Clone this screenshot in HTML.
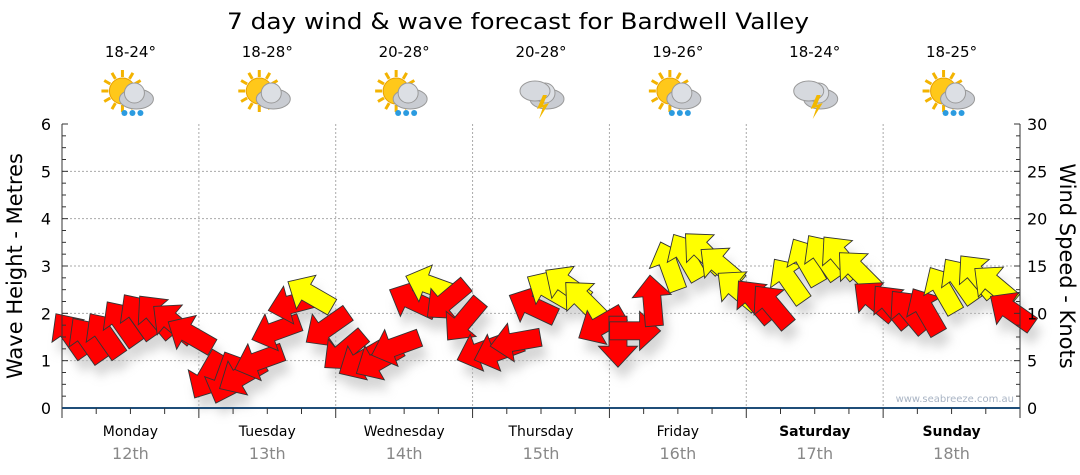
<!DOCTYPE html>
<html><head><meta charset="utf-8"><style>
body{margin:0;background:#fff;font-family:"DejaVu Sans","Liberation Sans",sans-serif}
svg{display:block;font-family:"DejaVu Sans","Liberation Sans",sans-serif}
</style></head><body>
<svg id="c" width="1080" height="475" viewBox="0 0 1080 475">
<defs><filter id="sh" x="-50%" y="-50%" width="200%" height="200%"><feGaussianBlur stdDeviation="5"/></filter></defs>
<text x="518" y="29" font-size="22" text-anchor="middle" fill="#000" textLength="582" lengthAdjust="spacingAndGlyphs">7 day wind &amp; wave forecast for Bardwell Valley</text>
<g id="grid"></g>
<g id="icons"></g>
<g id="shadows" filter="url(#sh)" opacity="0.6"></g>
<g id="arrows"></g>
<g id="axes"></g>
<text x="1014" y="402" font-size="10" text-anchor="end" fill="#a9b4c4">www.seabreeze.com.au</text>
<text transform="translate(22,266) rotate(-90)" font-size="21" text-anchor="middle">Wave Height - Metres</text>
<text transform="translate(1060,266) rotate(90)" font-size="21" text-anchor="middle">Wind Speed - Knots</text>
</svg>
<script>
const days=["Monday","Tuesday","Wednesday","Thursday","Friday","Saturday","Sunday"];
const dates=["12th","13th","14th","15th","16th","17th","18th"];
const temps=["18-24°","18-28°","20-28°","20-28°","19-26°","18-24°","18-25°"];
const iconTypes=["rain","cloud","rain","storm","rain","storm","rain"];
const waveTicks=[0,1,2,3,4,5,6];
const windTicks=[0,5,10,15,20,25,30];
const waveHeight=[1.55,1.45,1.55,1.8,1.95,1.95,1.8,1.55,
0.68,0.61,0.68,1.0,1.63,2.2,2.4,1.7,
1.2,1.0,1.0,1.3,2.27,2.6,2.27,1.85,
1.2,1.2,1.4,2.15,2.5,2.6,2.27,1.75,
1.4,1.63,2.27,3.0,3.2,3.3,3.0,2.5,
2.27,2.16,2.7,3.1,3.2,3.2,2.9,2.27,
2.16,2.05,2.05,2.5,2.7,2.8,2.6,2.05];
const windSpeed=[12,12,12,12,13,13,12,12,
11,11,11,12,12,13,16,12,
12,12,12,12,13,16,13,12,
12,12,12,13,16,16,16,12,
11,12,13,16,17,17,16,16,
13,13,16,17,17,17,16,13,
13,13,13,16,16,16,16,13];
const windDir=[-125,-125,-125,-125,-125,-130,-140,-150,
120,110,150,160,160,165,-150,145,
140,150,150,160,-155,-160,140,130,
160,160,170,-155,-150,-145,-135,150,
90,0,-95,-110,-120,-135,-140,-140,
-130,-130,-125,-120,-125,-130,-135,-140,
-130,-130,-120,-120,-125,-130,-140,-145];
const X0=62,X1=1020,Y0=408,Y6=124,dayW=(X1-X0)/7;
const yW=v=>Y0-(Y0-Y6)*v/6;
const yK=v=>Y0-(Y0-Y6)*v/30;
const xI=i=>X0+(i+0.5)*dayW/8;
const NS="http://www.w3.org/2000/svg";
function mk(tag,attrs,parent){const e=document.createElementNS(NS,tag);for(const k in attrs)e.setAttribute(k,attrs[k]);parent.appendChild(e);return e;}
const grid=document.getElementById('grid'),axes=document.getElementById('axes'),icons=document.getElementById('icons');
waveTicks.forEach(v=>{
 if(v>0&&v<6){const l=mk('line',{x1:X0,x2:X1,y1:yW(v),y2:yW(v),stroke:'#aaa','stroke-dasharray':'2,2'},grid);
 }
 const t=mk('text',{x:51,y:yW(v)+6,'font-size':16,'text-anchor':'end'},axes);t.textContent=v;
 
});
for(let v=0;v<=6;v+=0.25){mk('line',{x1:X0,x2:X0+(v%1==0?6:4),y1:yW(v),y2:yW(v),stroke:'#333'},axes);mk('line',{x1:X1,x2:X1-(v%1==0?6:4),y1:yW(v),y2:yW(v),stroke:'#333'},axes);}
windTicks.forEach(v=>{const t=mk('text',{x:1027,y:yK(v)+6,'font-size':16},axes);t.textContent=v;
 });
mk('line',{x1:X0,x2:X0,y1:Y6,y2:Y0+10,stroke:'#333'},axes);
mk('line',{x1:X1,x2:X1,y1:Y6,y2:Y0+10,stroke:'#333'},axes);
mk('line',{x1:X0,x2:X1,y1:Y0,y2:Y0,stroke:'#1f4e79','stroke-width':2},axes);
for(let d=0;d<7;d++){
 const xs=X0+d*dayW,xc=xs+dayW/2;
 if(d>0){const l=mk('line',{x1:xs,x2:xs,y1:Y6,y2:Y0,stroke:'#aaa','stroke-dasharray':'2,2'},grid);
  }
 for(let k=0;k<4;k++)mk('line',{x1:xs+k*dayW/4,x2:xs+k*dayW/4,y1:Y0,y2:Y0+(k==0?10:6),stroke:'#333'},axes);
 const bold=d>=5?'bold':'normal';
 const t1=mk('text',{x:xc,y:436,'font-size':14,'text-anchor':'middle','font-weight':bold},axes);t1.textContent=days[d];
 
 const t2=mk('text',{x:xc,y:459,'font-size':16,'text-anchor':'middle',fill:'#888'},axes);t2.textContent=dates[d];
 
 const t3=mk('text',{x:xc,y:57,'font-size':15,'text-anchor':'middle'},icons);t3.textContent=temps[d];
 
 const g=mk('g',{transform:`translate(${xc},95)`},icons);
 
 const ty=iconTypes[d];
 if(ty!=='storm'){for(let a=0;a<360;a+=30){const r=a*Math.PI/180;mk('line',{x1:-8+Math.cos(r)*14,y1:-4+Math.sin(r)*14,x2:-8+Math.cos(r)*21,y2:-4+Math.sin(r)*21,stroke:'#f3b300','stroke-width':3},g);}
  mk('circle',{cx:-8,cy:-4,r:13,fill:'#ffc81a',stroke:'#e8a000'},g);}
 mk('ellipse',{cx:6,cy:4,rx:17,ry:10,fill:'#c9ccd2',stroke:'#999'},g);
 mk('circle',{cx:4,cy:-2,r:10,fill:'#dcdfe4',stroke:'#999'},g);
 if(ty==='rain'){[-6,2,10].forEach(dx=>mk('circle',{cx:dx,cy:18,r:3,fill:'#2b9be0'},g));}
 if(ty==='storm'){mk('ellipse',{cx:-6,cy:-4,rx:15,ry:10,fill:'#d6d9de',stroke:'#999'},g);mk('polygon',{points:'2,0 -4,14 2,12 -2,24 8,8 2,10 6,0',fill:'#f2b800'},g);}
}
const shadows=document.getElementById('shadows'),arrows=document.getElementById('arrows');
const pts="-17,-6 3,-6 3,-13 17,0 3,13 3,6 -17,6";
for(let i=0;i<waveHeight.length;i++){
 const x=xI(i),y=yW(waveHeight[i]),a=windDir[i];
 const col=windSpeed[i]>=15?'#ffff00':'#ff0000';
 mk('polygon',{points:pts,transform:`translate(${x+5},${y+12}) rotate(${a}) scale(1.5)`,fill:'#bbb'},shadows);
 const p=mk('polygon',{points:pts,transform:`translate(${x},${y}) rotate(${a}) scale(1.5)`,fill:col,stroke:'#333','stroke-width':0.6},arrows);
 
 
}
</script>
</body></html>
